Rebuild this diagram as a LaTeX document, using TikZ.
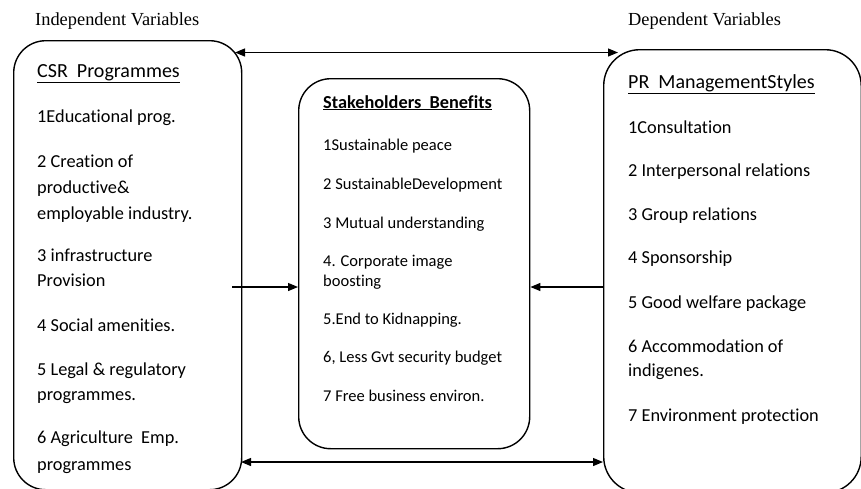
\documentclass[tikz,border=0pt]{standalone}
\usepackage{fontspec}
\setmainfont{Carlito}[Ligatures=CommonOff]
\newfontfamily\hdr{Liberation Serif}
\usetikzlibrary{arrows.meta}
\begin{document}
\begin{tikzpicture}[x=1pt,y=-1pt,
  box/.style={draw, line width=1.4pt, rounded corners=32pt, anchor=north west, inner sep=0pt},
  item/.style={anchor=base west, inner sep=0pt, font=\fontsize{18.3}{20}\selectfont},
  mitem/.style={anchor=base west, inner sep=0pt, font=\fontsize{16.5}{18}\selectfont},
  ttl/.style={anchor=base west, inner sep=0pt, font=\fontsize{20}{22}\selectfont},
  head/.style={anchor=base west, inner sep=0pt, font=\hdr\fontsize{18.4}{20}\selectfont},
  arr/.style={line width=1.2pt, -{Triangle[length=10pt,width=8pt]}},
  darr/.style={line width=1.2pt, {Triangle[length=10pt,width=8pt]}-{Triangle[length=10pt,width=8pt]}}]
\useasboundingbox (0,0) rectangle (861,488);

% headers
\node[head] (hl) at (35,25) {Independent Variables};
\node[head] (hr) at (628,25) {Dependent Variables};

% boxes
\node[box, minimum width=228pt, minimum height=449pt] (lbox) at (13,40) {};
\node[box, minimum width=231pt, minimum height=370pt] (mbox) at (298,78) {};
\node[box, minimum width=257.5pt, minimum height=443pt, rounded corners=36pt] (rbox) at (603,49) {};

% left box text
\node[ttl] (l0) at (37,77) {\underline{CSR\ \ Programmes}};
\node[item] (l1) at (37,122) {1Educational prog.};
\node[item] (l2) at (37,167) {2 Creation of};
\node[item] (l3) at (37,193) {productive\&};
\node[item] (l4) at (37,219) {employable industry.};
\node[item] (l5) at (37,261) {3 infrastructure};
\node[item] (l6) at (37,286) {Provision};
\node[item] (l7) at (37,331) {4 Social amenities.};
\node[item] (l8) at (37,375) {5 Legal \& regulatory};
\node[item] (l9) at (37,400) {programmes.};
\node[item] (l10) at (37,443) {6 Agriculture\ \ Emp.};
\node[item] (l11) at (37,470) {programmes};

% middle box text
\node[anchor=base west, inner sep=0pt, font=\fontsize{18.3}{20}\selectfont] (m0) at (323,108) {\textbf{\underline{Stakeholders\ \ Benefits}}};
\node[mitem] (m1) at (323,150) {1Sustainable peace};
\node[mitem] (m2) at (323,189) {2 SustainableDevelopment};
\node[mitem] (m3) at (323,228) {3 Mutual understanding};
\node[mitem] (m4) at (323,266) {4. Corporate image};
\node[mitem] (m5) at (323,286) {boosting};
\node[mitem] (m6) at (323,324) {5.End to Kidnapping.};
\node[mitem] (m7) at (323,362) {6, Less Gvt security budget};
\node[mitem] (m8) at (323,401) {7 Free business environ.};

% right box text
\node[ttl] (r0) at (628,88) {\underline{PR\ \ ManagementStyles}};
\node[item] (r1) at (628,133) {1Consultation};
\node[item] (r2) at (628,176) {2 Interpersonal relations};
\node[item] (r3) at (628,220) {3 Group relations};
\node[item] (r4) at (628,263) {4 Sponsorship};
\node[item] (r5) at (628,308) {5 Good welfare package};
\node[item] (r6) at (628,352) {6 Accommodation of};
\node[item] (r7) at (628,376) {indigenes.};
\node[item] (r8) at (628,421) {7 Environment protection};

% connectors
\coordinate (ta) at (235,52.5);
\coordinate (tb) at (618,52.5);
\draw[darr] (ta) -- (tb);
\coordinate (ba) at (241,462);
\coordinate (bb) at (603,462);
\draw[darr] (ba) -- (bb);
\coordinate (ma) at (232,287);
\draw[arr] (ma) -- (mbox.west |- ma);
\draw[arr] (rbox.west |- ma) -- (mbox.east |- ma);
\end{tikzpicture}
\end{document}
